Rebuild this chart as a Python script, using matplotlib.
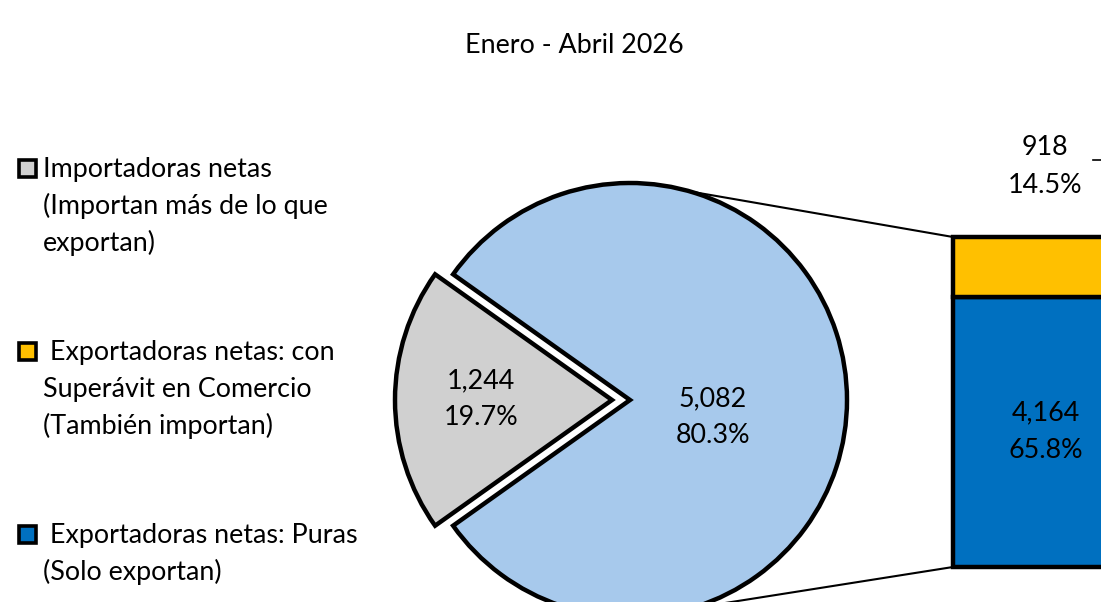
import matplotlib.pyplot as plt
from matplotlib.patches import Rectangle
import math

plt.rcParams['font.family'] = ['Lato', 'DejaVu Sans']

# data
title = 'Enero - Abril 2026'
pie_values = [1244, 5082]            # importadoras, exportadoras (total)
bar_values = [4164, 918]             # puras, con superávit
pie_colors = ['#D0D0D0', '#A7C9EC']
bar_colors = ['#0070C0', '#FFC000']
legend_lines = [
    ['Importadoras netas', '(Importan más de lo que', 'exportan)'],
    [' Exportadoras netas: con', 'Superávit en Comercio', '(También importan)'],
    [' Exportadoras netas: Puras', '(Solo exportan)'],
]
legend_colors = ['#D0D0D0', '#FFC000', '#0070C0']

W, H = 1101, 602
FS = 19.4
total = sum(pie_values)

fig = plt.figure(figsize=(W / 100, H / 100), dpi=100)

def ftext(x, y, s, **kw):
    # place text by image pixel coords (y down)
    fig.text(x / W, 1 - y / H, s, fontsize=kw.pop('fontsize', FS), **kw)

# background axes in pixel units for lines and legend boxes
ax = fig.add_axes([0, 0, 1, 1])
ax.set_xlim(0, W)
ax.set_ylim(H, 0)
ax.axis('off')

# pie axes: 1 data unit = R px
cx, cy, R = 630, 400, 217
half = 300
pax = fig.add_axes([(cx - half) / W, (H - cy - half) / H, 2 * half / W, 2 * half / H])
start = 180 - 0.5 * 360 * pie_values[0] / total
pax.pie(pie_values, colors=pie_colors, startangle=start,
        explode=[18 / R, 0],
        wedgeprops=dict(edgecolor='black', linewidth=3.2, joinstyle='miter'))
pax.set_xlim(-half / R, half / R)
pax.set_ylim(-half / R, half / R)
pax.axis('off')

# bar of the exporters
bx0, bx1, by0, by1 = 953, 1141, 237, 567
bax = fig.add_axes([bx0 / W, (H - by1) / H, (bx1 - bx0) / W, (by1 - by0) / H])
bottom = 0
for v, c in zip(bar_values, bar_colors):
    bax.bar(0, v, bottom=bottom, width=1, color=c, edgecolor='black',
            linewidth=3.2, clip_on=False)
    bottom += v
bax.set_xlim(-0.5, 0.5)
bax.set_ylim(0, sum(bar_values))
bax.axis('off')

# connector lines pie -> bar
ang = math.radians(74)
px_, py_ = cx + R * math.cos(ang), R * math.sin(ang)
ax.plot([px_, bx0], [cy - py_, by0], color='black', lw=1.5)
ax.plot([px_, bx0], [cy + py_, by1], color='black', lw=1.5)
# leader line of the small segment label
ax.plot([1093, 1130], [160, 160], color='black', lw=1.2, clip_on=False)

def lab(v):
    return f'{v:,}', f'{v / total * 100:.1f}%'

# data labels (baselines)
for (x, y), v in zip([(481, 388), (713, 406)], pie_values):
    a, b = lab(v)
    ftext(x, y, a, ha='center', va='baseline')
    ftext(x, y + 37, b, ha='center', va='baseline')
for (x, y), v in zip([(1046, 420), (1045, 155)], bar_values):
    a, b = lab(v)
    ftext(x, y, a, ha='center', va='baseline')
    ftext(x, y + 38, b, ha='center', va='baseline')

ftext(574, 53, title, ha='center', va='baseline')

# legend
bases = [177, 360, 543]
for lines, c, yb in zip(legend_lines, legend_colors, bases):
    ax.add_patch(Rectangle((19, yb - 17), 17, 17, facecolor=c,
                           edgecolor='black', linewidth=2.6))
    for i, s in enumerate(lines):
        ftext(43, yb + i * 36.8, s, ha='left', va='baseline')

fig.savefig('out.png', dpi=100)
